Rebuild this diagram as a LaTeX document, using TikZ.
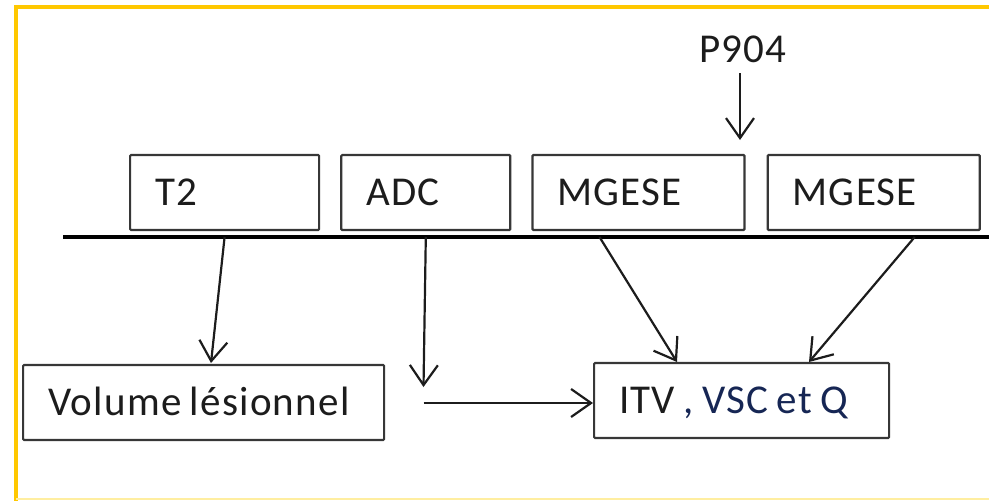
\documentclass[tikz,border=0pt]{standalone}
\usepackage{fontspec}
\setmainfont{Carlito}[LetterSpace=3]
\usetikzlibrary{positioning,arrows.meta}

\definecolor{frameyellow}{RGB}{255,200,0}
\definecolor{paleyellow}{RGB}{255,238,160}
\definecolor{boxgray}{RGB}{55,55,55}
\definecolor{textgray}{RGB}{28,28,28}
\definecolor{navyblue}{RGB}{22,38,84}

\newcommand{\boxfont}{\fontsize{41}{46}\selectfont}
\newcommand{\tightspace}{\spaceskip=8.5pt\relax}

\tikzset{
	box/.style={draw=boxgray, line width=2.2pt, rounded corners=1pt, align=left,
		inner xsep=25pt, inner ysep=0pt, minimum height=75pt,
		text height=26pt, text depth=0pt, text=textgray,
		font=\boxfont, execute at begin node=\tightspace},
	arr/.style={line width=2.2pt, draw=textgray,
		-{Straight Barb[length=20pt,width=28pt,line width=2.2pt]}},
	bus/.style={line width=3.6pt},
}

\begin{document}
\begin{tikzpicture}[x=1pt,y=-1pt]
		\useasboundingbox (0,0) rectangle (989,501);
		% frame
		\draw[frameyellow, line width=4pt] (989,7) -- (16,7) -- (16,501);
		\draw[paleyellow, line width=2pt] (16,499) -- (989,499);

		% acquisitions along the time line
		\node[box, text width=139pt, anchor=west] (t2) at (129,192.5) {T2};
		\node[box, text width=119pt, right=20pt of t2] (adc) {ADC};
		\node[box, text width=162pt, right=20pt of adc] (mgese1) {MGESE};
		\node[box, text width=162pt, right=21pt of mgese1] (mgese2) {MGESE};
		\coordinate (busL) at (63,237);
		\coordinate (busR) at (989,237);
		\draw[bus] (busL) -- (busR);

		% injection
		\node[inner sep=0pt, text height=27pt, text depth=0pt, text=textgray,
			font=\boxfont] (p904) at (743,48.5) {P904};
		\coordinate (inj) at (740,140);
		\draw[arr] (inj |- 0,73) -- (inj);

		% results
		\node[box, text width=311pt, anchor=west] (vol) at (22,402.5) {Volume lésionnel};
		\node[box, text width=245pt, anchor=west] (itv) at (593,400.5)
			{ITV {\color{navyblue}, VSC et Q}};

		\coordinate (volin) at (211,363);
		\coordinate (adcend) at (423.5,387);
		\coordinate (merge) at (423.5,403);
		\coordinate (itvin1) at (677,362);
		\coordinate (itvin2) at (809,362);

		\draw[arr] (t2.south |- busL) -- (volin);
		\draw[arr] (adc.south |- busL) -- (adcend);
		\draw[arr] (merge) -- (merge -| itv.west);
		\draw[arr] ([xshift=-39pt]mgese1.south |- busL) -- (itvin1);
		\draw[arr] ([xshift=41pt]mgese2.south |- busL) -- (itvin2);
	\end{tikzpicture}
\end{document}
